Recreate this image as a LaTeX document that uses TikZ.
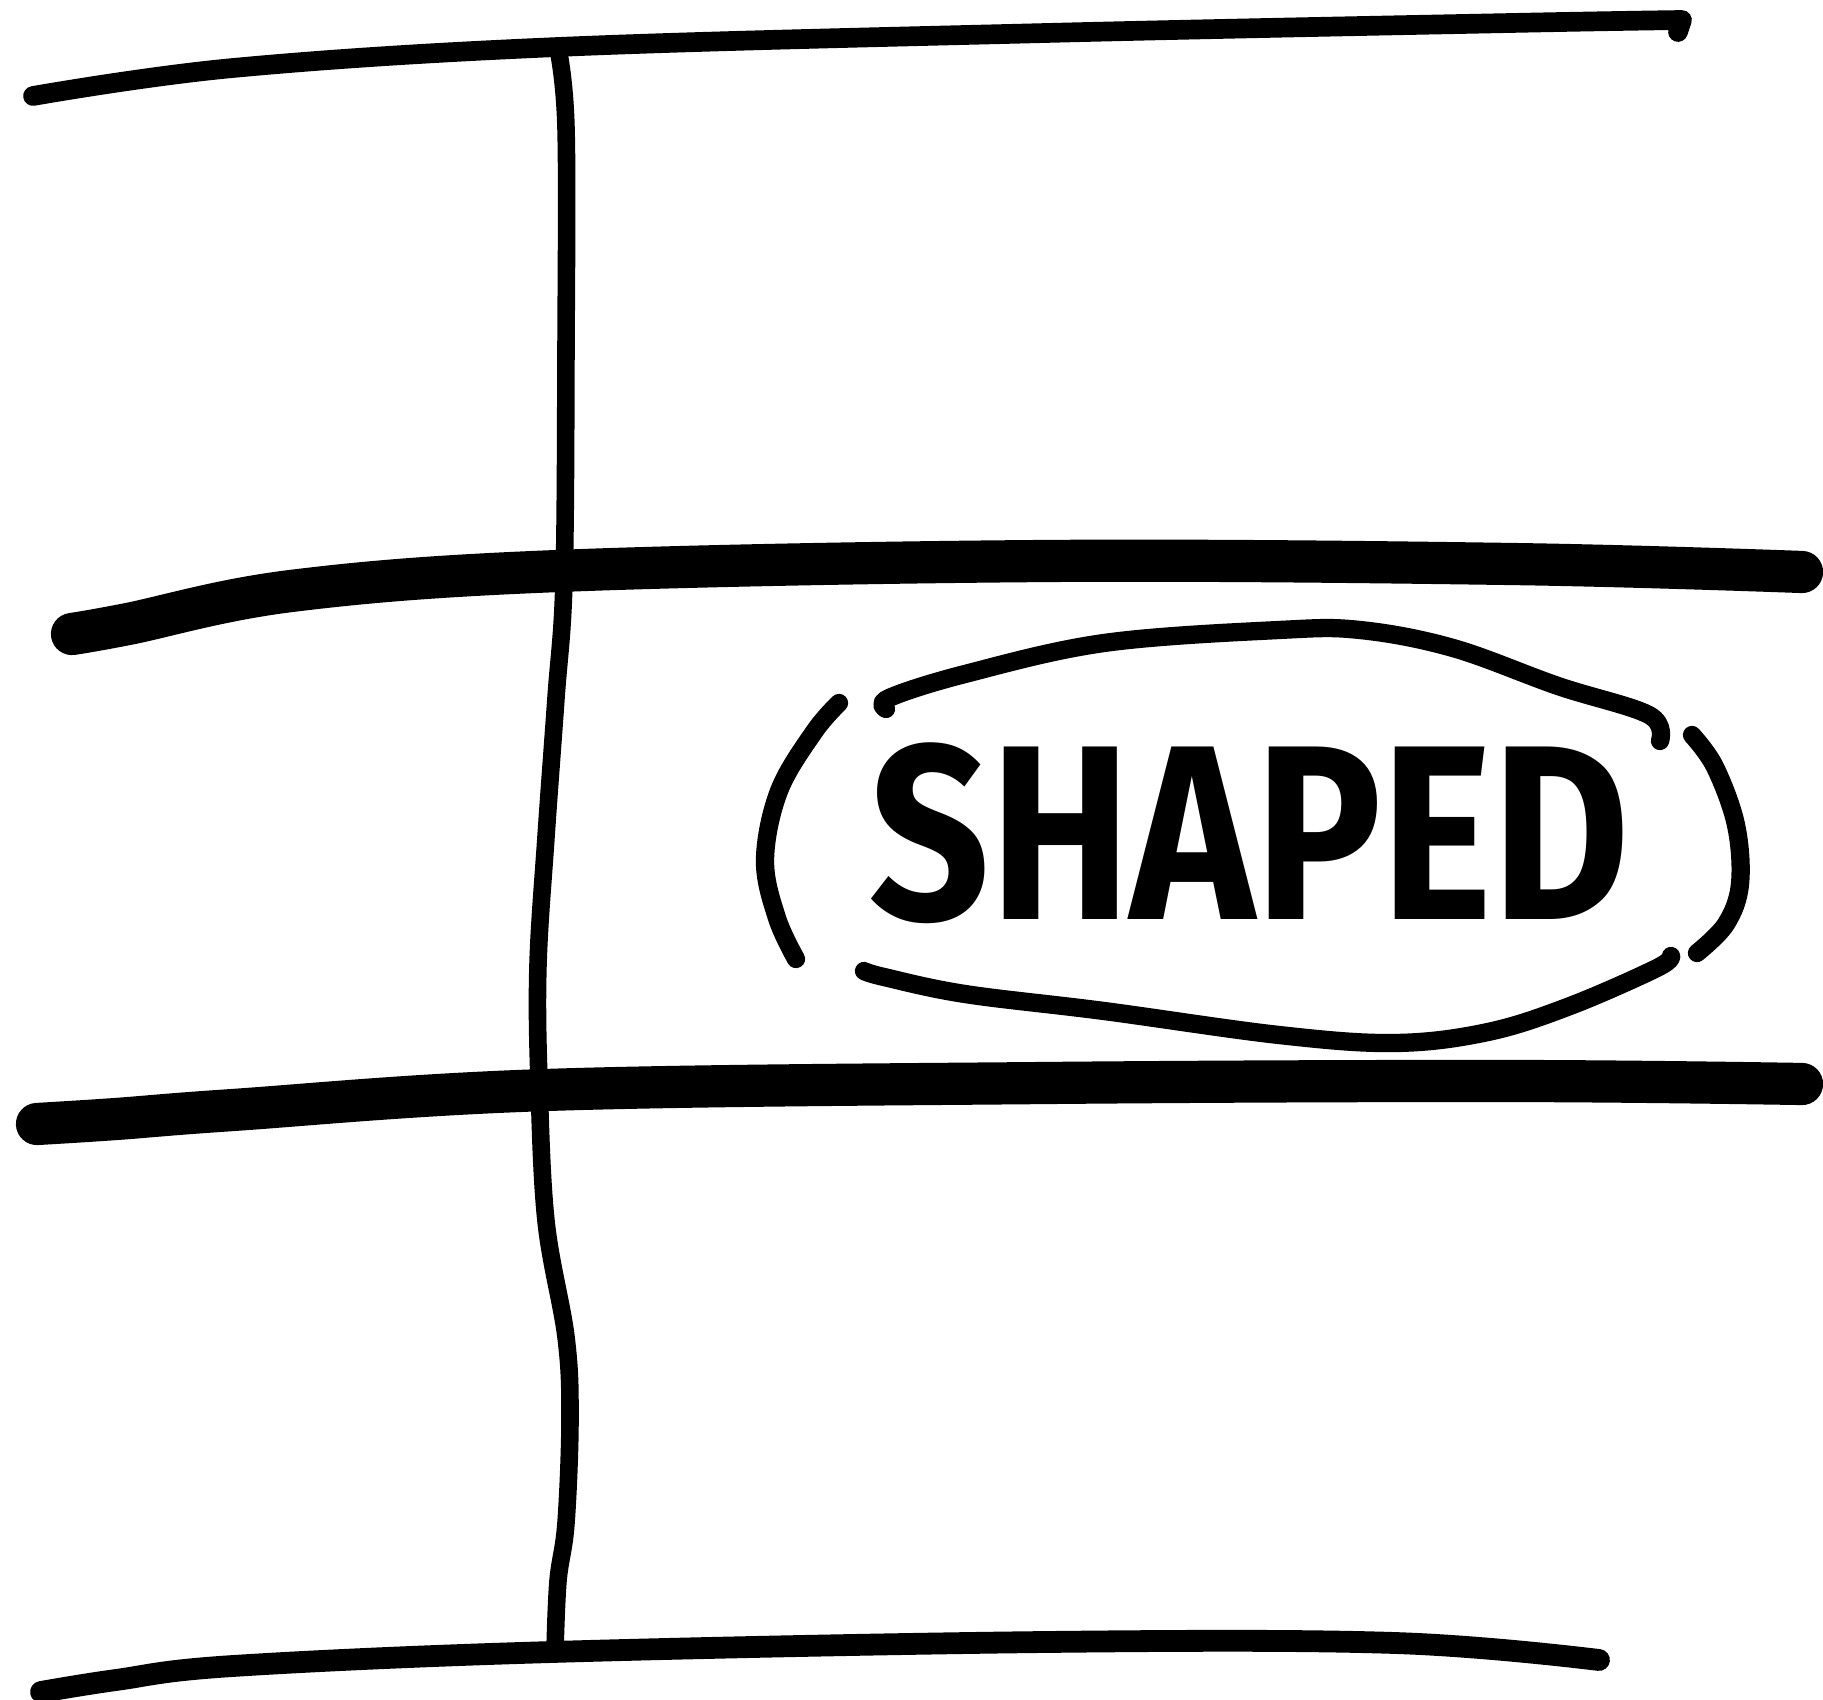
\documentclass[tikz,border=0pt]{standalone}
\usepackage{fontspec}
\newfontfamily\sketchfont{Fira Sans}[UprightFont=* Bold]
\begin{document}
\begin{tikzpicture}[x=0.01cm,y=-0.01cm,
  pen/.style={line width=#1,line cap=round,line join=round,black},
  thinpen/.style={pen=5.6pt},
  thickpen/.style={pen=12pt},
  vpen/.style={pen=5.0pt},
  ellpen/.style={pen=5.2pt},
  lbl/.style={font=\sketchfont\fontsize{60}{64}\selectfont,inner sep=0pt,yscale=1.18}]
\useasboundingbox[fill=white] (0,0) rectangle (1823,1700);
% horizontal lines
\draw[thinpen] plot[smooth,tension=0.6] coordinates {(33,96) (233,68) (558,47) (1046,33) (1511,23) (1682,20)} -- (1678,32);
\draw[thickpen] plot[smooth,tension=0.6] coordinates {(72,634) (128,624) (291,591) (558,571) (1046,561) (1511,564) (1802,572)};
\fill (72,632) circle (15);
\draw[thickpen] plot[smooth,tension=0.6] coordinates {(37,1124) (116,1119) (233,1110) (546,1090) (1046,1083) (1511,1081) (1802,1084)};
\fill (37,1124) circle (13);
\draw[thinpen,line width=6.2pt] plot[smooth,tension=0.6] coordinates {(41,1692) (116,1680) (233,1666) (552,1652) (1046,1642) (1395,1643) (1599,1660)};
% vertical line
\draw[vpen] plot[smooth,tension=0.6] coordinates {(558,49) (566,128) (566,349) (564,581) (556,698) (546,837) (538,965) (539,1081) (546,1221) (566,1337) (570,1418) (566,1523) (558,1581) (555,1651)};
% ellipse strokes
\draw[ellpen] plot[smooth,tension=0.6] coordinates {(839,703) (814,732) (779,791) (765,860) (777,918) (796,959)};
\draw[ellpen] plot[smooth,tension=0.6] coordinates {(1692,735) (1715,767) (1736,825) (1740,884) (1726,924) (1697,953)};
\draw[ellpen] plot[smooth,tension=0.6] coordinates {(886,709) (889,698) (965,674) (1104,643) (1279,630) (1360,630) (1453,648) (1558,686) (1649,715) (1660,741)};
\draw[ellpen] plot[smooth,tension=0.6] coordinates {(864,971) (884,977) (965,994) (1104,1011) (1279,1035) (1395,1043) (1488,1032) (1570,1006) (1657,968) (1671,956)};
\node[lbl] (shaped) at (1250,833) {SHAPED};
\end{tikzpicture}
\end{document}
